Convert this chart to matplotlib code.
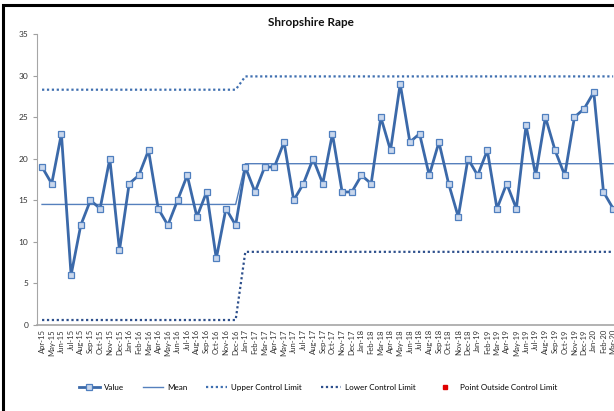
import numpy as np
import matplotlib.pyplot as plt
from matplotlib.patches import Rectangle

months = ["Apr-15", "May-15", "Jun-15", "Jul-15", "Aug-15", "Sep-15", "Oct-15", "Nov-15",
          "Dec-15", "Jan-16", "Feb-16", "Mar-16", "Apr-16", "May-16", "Jun-16", "Jul-16",
          "Aug-16", "Sep-16", "Oct-16", "Nov-16", "Dec-16", "Jan-17", "Feb-17", "Mar-17",
          "Apr-17", "May-17", "Jun-17", "Jul-17", "Aug-17", "Sep-17", "Oct-17", "Nov-17",
          "Dec-17", "Jan-18", "Feb-18", "Mar-18", "Apr-18", "May-18", "Jun-18", "Jul-18",
          "Aug-18", "Sep-18", "Oct-18", "Nov-18", "Dec-18", "Jan-19", "Feb-19", "Mar-19",
          "Apr-19", "May-19", "Jun-19", "Jul-19", "Aug-19", "Sep-19", "Oct-19", "Nov-19",
          "Dec-19", "Jan-20", "Feb-20", "Mar-20"]

values = [19, 17, 23, 6, 12, 15, 14, 20, 9, 17, 18, 21, 14, 12, 15, 18, 13, 16, 8, 14, 12,
          19, 16, 19, 19, 22, 15, 17, 20, 17, 23, 16, 16, 18, 17, 25, 21, 29, 22, 23, 18,
          22, 17, 13, 20, 18, 21, 14, 17, 14, 24, 18, 25, 21, 18, 25, 26, 28, 16, 14]

# two periods: Apr-15..Dec-16 (21 months), Jan-17 onwards
n_first = 21
mean_vals = [14.5] * n_first + [19.4] * (len(values) - n_first)
ucl_vals = [28.3] * n_first + [29.9] * (len(values) - n_first)
lcl_vals = [0.6] * n_first + [8.8] * (len(values) - n_first)

plt.rcParams['font.family'] = ['Lato', 'DejaVu Sans']

fig = plt.figure(figsize=(6.14, 4.11), dpi=100)
ax = fig.add_axes([37.2 / 614, 1 - 325 / 411, (60 * 9.68) / 614, (325 - 34) / 411])

x = np.arange(len(values))
ax.plot(x, ucl_vals, color="#3f6fb0", lw=1.6, ls=(0, (1, 1.2)), label="Upper Control Limit")
ax.plot(x, lcl_vals, color="#2d4f8c", lw=1.6, ls=(0, (1, 1.2)), label="Lower Control Limit")
ax.plot(x, mean_vals, color="#5580bd", lw=1.0, label="Mean")
ax.plot(x, values, color="#3b69a9", lw=2.0, marker="s", markersize=4,
        markerfacecolor="#c9d7ec", markeredgecolor="#4f7fbf", markeredgewidth=0.9,
        label="Value")
ax.plot([], [], ls="none", marker="s", markersize=3, color="#e00000",
        label="Point Outside Control Limit")

ax.set_xlim(-0.5, len(values) - 0.5)
ax.set_ylim(0, 35)
ax.set_yticks(np.arange(0, 36, 5))
ax.set_xticks(x)
ax.set_xticklabels(months, rotation=90, fontsize=5.5, color="#333333")
ax.tick_params(axis="y", labelsize=6, colors="#333333", length=3, color="#a0a0a0")
ax.tick_params(axis="x", length=0, pad=3)
for s in ["top", "right"]:
    ax.spines[s].set_visible(False)
ax.spines["left"].set_color("#a6a6a6")
ax.spines["bottom"].set_color("#a6a6a6")
ax.spines["bottom"].set_linewidth(1.2)

fig.text(311 / 614, 1 - 22 / 411, "Shropshire Rape", ha="center", va="center",
         fontsize=8.5, fontweight="bold", color="#111111")

h, l = ax.get_legend_handles_labels()
order = ["Value", "Mean", "Upper Control Limit", "Lower Control Limit",
         "Point Outside Control Limit"]
hd = dict(zip(l, h))
fig.legend([hd[k] for k in order], order, loc="center", ncol=5, frameon=False,
           bbox_to_anchor=(318 / 614, 1 - 387 / 411), fontsize=5.8, handlelength=2.6,
           columnspacing=2.3, handletextpad=0.5)

# chart frame (right and bottom edges fall outside the picture)
fig.patches.append(Rectangle((3 / 614, -0.05), 1.1, 1 - 5 / 411 + 0.05,
                             transform=fig.transFigure, fill=False,
                             edgecolor="black", lw=2.2))

fig.savefig("out.png", dpi=100)
